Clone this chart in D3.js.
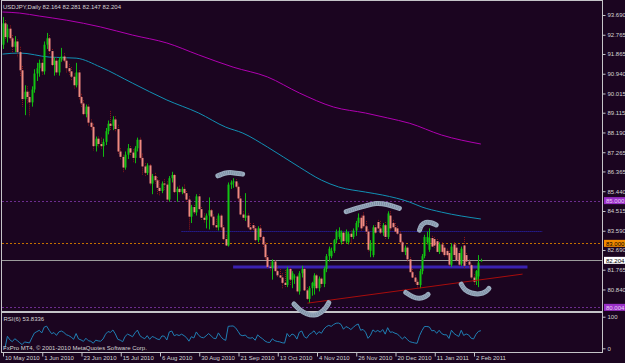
<!DOCTYPE html>
<html>
<head>
<meta charset="utf-8">
<script src="https://cdn.jsdelivr.net/npm/d3@7"></script>
<style>
  html, body { margin: 0; padding: 0; background: #1b0520; }
  svg { display: block; }
  text { font-family: "Liberation Sans", Arial, sans-serif; font-size: 6px; fill: #d4d4d4; }
</style>
</head>
<body>
<svg id="chart" width="625" height="363"></svg>
<script>
// USDJPY daily bars, 10 May 2010 .. 7 Feb 2011  [open, high, low, close]
const bars = [
  [92.30,93.60,92.10,93.30],[93.30,93.45,92.50,92.65],[92.65,93.25,92.40,93.05],[93.05,93.20,92.45,92.60],
  [92.60,92.75,91.90,92.20],[92.20,92.70,91.95,92.45],[92.45,92.55,91.70,91.95],[91.95,92.20,90.80,91.10],
  [91.10,91.30,89.40,89.75],[89.75,90.40,89.00,90.10],[90.10,90.35,89.55,89.85],[89.85,90.10,88.95,89.60],
  [89.60,90.35,89.40,90.20],[90.20,91.15,90.05,90.95],[90.95,91.45,90.60,91.20],[91.20,91.60,90.80,91.45],
  [91.45,91.60,90.85,91.05],[91.05,92.45,90.90,92.30],[92.30,92.85,92.10,92.60],[92.60,92.75,91.85,92.00],
  [92.00,92.10,91.25,91.35],[91.35,91.70,90.85,91.55],[91.55,91.70,90.90,91.00],[91.00,91.70,90.85,91.60],
  [91.60,92.15,91.50,91.75],[91.75,91.90,91.45,91.55],[91.55,91.70,91.00,91.20],[91.20,91.40,90.90,91.05],
  [91.05,91.25,90.60,90.80],[90.80,90.95,90.25,90.40],[90.40,91.45,90.30,91.00],[91.00,91.10,89.70,89.85],
  [89.85,90.00,89.35,89.55],[89.55,89.70,88.95,89.05],[89.05,89.50,88.90,89.40],[89.40,89.50,88.50,88.65],
  [88.65,88.80,88.30,88.45],[88.45,88.60,87.35,87.55],[87.55,88.00,87.30,87.90],[87.90,88.00,87.50,87.65],
  [87.65,87.95,87.40,87.55],[87.55,87.90,87.05,87.75],[87.75,88.40,87.60,88.25],[88.25,88.75,88.10,88.60],
  [88.60,89.20,88.30,88.50],[88.50,88.95,88.30,88.80],[88.80,88.95,88.20,88.35],[88.35,88.55,87.20,87.30],
  [87.30,87.45,86.90,87.05],[87.05,87.15,86.30,86.55],[86.55,87.30,86.45,87.15],[87.15,87.65,86.95,87.45],
  [87.45,87.55,87.10,87.25],[87.25,87.40,86.80,87.00],[87.00,87.55,86.75,87.45],[87.45,87.95,87.30,87.85],
  [87.85,87.95,86.90,87.00],[87.00,87.20,86.20,86.60],[86.60,86.75,86.15,86.30],[86.30,86.75,86.20,86.65],
  [86.65,86.70,85.70,85.80],[85.80,86.25,85.30,86.15],[86.15,86.30,85.80,85.95],[85.95,86.10,85.30,85.60],
  [85.60,85.95,85.25,85.45],[85.45,85.90,85.35,85.80],[85.80,86.00,85.50,85.75],[85.75,85.90,84.95,85.05],
  [85.05,86.15,84.95,86.05],[86.05,86.35,85.85,86.20],[86.20,86.25,85.30,85.40],[85.40,85.65,84.95,85.55],
  [85.55,85.70,85.30,85.40],[85.40,85.65,85.30,85.55],[85.55,85.75,85.25,85.35],[85.35,85.45,84.90,85.05],
  [85.05,85.20,83.60,84.25],[84.25,84.80,83.95,84.70],[84.70,84.80,84.35,84.45],[84.45,85.30,84.30,85.20],
  [85.20,85.30,84.55,84.60],[84.60,84.70,84.10,84.20],[84.20,84.40,83.95,84.10],[84.10,84.40,83.70,84.30],
  [84.30,85.15,83.65,84.55],[84.55,84.60,84.20,84.25],[84.25,84.35,83.75,83.85],[83.85,84.15,83.65,83.75],
  [83.75,84.40,83.60,84.30],[84.30,84.35,83.65,83.75],[83.75,83.85,83.10,83.20],[83.20,83.40,82.85,82.90],
  [82.90,85.85,82.85,85.75],[85.75,85.95,85.55,85.85],[85.85,86.05,85.60,85.90],[85.90,86.00,85.55,85.65],
  [85.65,85.80,85.00,85.10],[85.10,85.20,84.25,84.35],[84.35,84.50,84.10,84.20],[84.20,85.35,84.05,84.30],
  [84.30,84.40,83.70,83.75],[83.75,83.95,83.55,83.65],[83.85,83.95,83.60,83.70],[83.70,83.80,83.10,83.15],
  [83.15,83.80,83.05,83.70],[83.70,83.85,83.10,83.30],[83.30,83.35,82.80,82.95],[82.95,83.05,82.25,82.35],
  [82.35,82.45,81.80,81.90],[81.90,82.10,81.70,81.85],[81.85,82.25,81.30,82.15],[82.15,82.20,81.65,81.70],
  [81.70,81.95,81.40,81.50],[81.50,81.80,81.35,81.40],[81.40,81.60,80.85,81.15],[81.15,81.75,80.95,81.05],
  [81.05,81.90,80.95,81.80],[81.80,81.85,81.05,81.30],[81.30,81.70,80.90,81.60],[81.40,81.55,81.10,81.45],
  [81.45,81.50,80.65,80.75],[80.75,81.70,80.60,81.60],[81.60,81.95,81.40,81.80],[81.80,81.85,80.75,80.80],
  [80.80,80.95,80.35,80.40],[80.40,81.00,80.20,80.90],[80.90,81.20,80.55,81.15],[81.00,81.60,80.60,81.50],
  [81.50,81.55,80.80,80.90],[80.90,81.45,80.75,81.35],[81.35,81.40,80.95,81.10],[81.10,81.90,80.95,81.80],
  [81.80,82.50,81.65,82.40],[82.40,82.85,82.15,82.75],[82.40,82.80,82.30,82.65],[82.65,83.20,82.55,83.15],
  [83.15,83.65,83.00,83.55],[83.30,83.75,83.20,83.60],[83.05,83.60,82.95,83.50],[83.50,83.55,83.00,83.10],
  [83.10,83.65,83.00,83.55],[83.05,83.55,82.95,83.45],[83.45,83.60,83.00,83.30],[83.30,83.70,83.20,83.60],
  [83.60,84.05,83.35,83.95],[83.95,84.40,83.75,84.20],[84.20,84.30,83.60,83.70],[84.30,84.45,83.70,83.80],
  [83.80,84.05,83.45,83.55],[83.55,83.65,82.60,82.70],[82.65,83.15,82.35,83.00],[82.45,83.85,82.35,83.75],
  [83.75,83.85,83.45,83.50],[84.00,84.10,83.60,83.70],[83.70,84.05,83.40,83.50],[83.50,83.95,83.35,83.85],
  [83.85,84.00,83.20,83.30],[83.30,84.50,83.20,84.40],[84.30,84.50,83.60,83.70],[83.95,84.10,83.70,83.75],
  [83.75,83.95,83.50,83.55],[83.70,83.80,83.40,83.45],[83.45,83.55,82.95,83.05],[83.05,83.10,82.55,82.60],
  [82.60,82.90,82.45,82.80],[82.80,82.85,82.15,82.25],[82.25,82.35,81.60,81.65],[81.65,81.80,81.35,81.40],
  [81.40,81.50,81.10,81.20],[81.20,81.30,80.85,81.05],[81.05,81.80,80.90,81.70],[81.70,82.50,81.55,82.40],
  [82.40,83.40,82.30,83.30],[83.05,83.55,82.95,83.30],[82.70,83.70,82.60,83.25],[83.25,83.35,82.80,82.85],
  [83.20,83.30,82.80,82.90],[83.10,83.20,82.55,82.60],[82.60,83.05,82.50,82.95],[82.95,83.05,82.50,82.60],
  [82.80,82.90,82.35,82.45],[82.65,82.75,82.35,82.45],[82.55,82.65,81.90,82.00],[82.00,83.00,81.90,82.85],
  [82.95,83.05,82.35,82.45],[82.80,82.95,82.10,82.20],[82.55,82.65,81.90,82.00],[82.05,82.85,81.95,82.75],
  [82.90,83.30,81.85,81.95],[82.45,82.55,82.05,82.15],[82.15,82.25,81.85,82.00],[81.98,82.05,81.35,81.40],
  [81.40,81.55,81.05,81.20],[81.25,81.75,81.05,81.70],[81.45,82.45,80.95,82.10],[82.164,82.281,82.147,82.204]
];

// date axis: bar index of each label and its text
const tickBars = [0, 16, 32, 48, 64, 80, 96, 112, 128, 144, 160, 176, 192];
const tickLabels = ["10 May 2010", "1 Jun 2010", "23 Jun 2010", "15 Jul 2010", "6 Aug 2010", "30 Aug 2010",
  "21 Sep 2010", "13 Oct 2010", "4 Nov 2010", "26 Nov 2010", "20 Dec 2010", "11 Jan 2011", "2 Feb 2011"];

// price axis labels
const priceTicks = [93.690, 92.765, 91.865, 90.940, 90.015, 89.115, 88.190, 87.265, 86.365, 85.440,
  84.515, 83.590, 82.690, 81.765, 80.840];

// horizontal levels: 85.000 / 83.000 / bid / 80.004
const levels = [85.000, 83.000, 82.204, 80.004];

// moving averages: [bar, price]
const maSlow = [[0,93.83],[7,93.78],[15,93.64],[26,93.45],[40,93.13],[53,92.75],[67,92.38],[80,91.82],
  [94,91.25],[108,90.79],[121,90.04],[135,89.38],[148,89.10],[157,88.87],[166,88.62],[179,88.07],[195,87.65]];
const maFast = [[0,91.86],[7,91.91],[19,91.72],[30,91.67],[40,91.25],[53,90.50],[67,89.71],[80,89.10],
  [91,88.44],[98,88.16],[108,87.51],[121,86.57],[130,85.96],[137,85.64],[148,85.40],[155,85.26],
  [166,84.93],[171,84.70],[179,84.46],[195,84.14]];

// drawn objects: [fromBar, toBar, price]
const dottedLevel = [73, 220, 83.60];
const bandLevel = [94, 214, 81.89];
const trendLine = [[124.3, 80.20], [212, 81.56]];

// hand drawn arcs: lists of [bar, price]
const arcs = [
  [[87.8,86.16],[90.5,86.30],[93.4,86.33],[97.9,86.24]],
  [[140.1,84.48],[144.2,84.64],[148.3,84.76],[152.3,84.90],[156.4,84.84],[161.8,84.64]],
  [[170.0,83.62],[170.7,83.86],[172.4,84.01],[174.8,83.98],[176.8,83.86]],
  [[118.8,80.16],[121.1,79.88],[123.8,79.69],[127.2,79.61],[129.9,79.75],[132.0,80.00],[133.0,80.22]],
  [[164.4,80.70],[167.3,80.47],[170.0,80.40],[172.4,80.50],[173.5,80.61]],
  [[187.0,81.09],[188.3,80.81],[191.1,80.66],[194.5,80.61],[197.2,80.73],[198.3,80.89]]
];

const W = 625, H = 363;
const padL = 2, padR = 602, padT = 1, mainBottom = 311, rsiTop = 313, rsiBottom = 352;

const svg = d3.select("#chart");
svg.append("rect").attr("width", W).attr("height", H).attr("fill", "#1b0520");

const x = d3.scaleLinear().domain([0, 192]).range([2.5, 473.5]);
const y = d3.scaleLinear().domain([79.833, 94.345]).range([mainBottom, padT]);
const yr = d3.scaleLinear().domain([0, 100]).range([348.3, 316.7]);

svg.append("clipPath").attr("id", "mainClip")
  .append("rect").attr("x", padL).attr("y", padT).attr("width", padR - padL).attr("height", mainBottom - padT);
svg.append("clipPath").attr("id", "rsiClip")
  .append("rect").attr("x", padL).attr("y", rsiTop).attr("width", padR - padL).attr("height", rsiBottom - rsiTop);

const main = svg.append("g").attr("clip-path", "url(#mainClip)");

// level lines
const levelColor = ["#6c2c8e", "#c47000", "#9c9c9c", "#6c2c8e"];
main.selectAll("line.level").data(levels).join("line")
  .attr("x1", padL).attr("x2", padR)
  .attr("y1", d => Math.round(y(d)) + 0.5).attr("y2", d => Math.round(y(d)) + 0.5)
  .attr("stroke", (d, i) => levelColor[i])
  .attr("stroke-dasharray", (d, i) => i === 2 ? null : "2,2");

// moving averages
const maLine = d3.line().x(d => x(d[0])).y(d => y(d[1])).curve(d3.curveMonotoneX);
main.append("path").attr("d", maLine(maSlow)).attr("fill", "none").attr("stroke", "#b000b0").attr("stroke-width", 1);
main.append("path").attr("d", maLine(maFast)).attr("fill", "none").attr("stroke", "#1190b4").attr("stroke-width", 1);

// blue dotted level and thick band
main.append("line")
  .attr("x1", x(dottedLevel[0])).attr("x2", x(dottedLevel[1]))
  .attr("y1", Math.round(y(dottedLevel[2])) + 0.5).attr("y2", Math.round(y(dottedLevel[2])) + 0.5)
  .attr("stroke", "#2a2ad0").attr("stroke-dasharray", "1,1");
main.append("line")
  .attr("x1", x(bandLevel[0])).attr("x2", x(bandLevel[1]))
  .attr("y1", y(bandLevel[2])).attr("y2", y(bandLevel[2]))
  .attr("stroke", "#3a22b0").attr("stroke-width", 3);

// candles
const candles = main.selectAll("g.bar").data(bars).join("g");
candles.append("line")
  .attr("x1", (d, i) => Math.round(x(i)) + 0.5).attr("x2", (d, i) => Math.round(x(i)) + 0.5)
  .attr("y1", d => y(d[1])).attr("y2", d => y(d[2]))
  .attr("stroke", d => d[3] >= d[0] ? "#10b810" : "#901818")
  .attr("stroke-dasharray", d => d[3] >= d[0] ? null : "1,1");
candles.append("rect")
  .attr("x", (d, i) => Math.round(x(i)) - 0.5)
  .attr("width", 2)
  .attr("y", d => y(Math.max(d[0], d[3])))
  .attr("height", d => Math.max(1, Math.abs(y(d[0]) - y(d[3]))))
  .attr("fill", d => d[3] >= d[0] ? "#12c412" : "#f08a80");

// trend line
main.append("line")
  .attr("x1", x(trendLine[0][0])).attr("y1", y(trendLine[0][1]))
  .attr("x2", x(trendLine[1][0])).attr("y2", y(trendLine[1][1]))
  .attr("stroke", "#a80c0c").attr("stroke-width", 1);

// RSI(6) from the closes
const closes = bars.map(d => d[3]);
const rsi = [];
let ag = 0, al = 0;
for (let i = 1; i < closes.length; i++) {
  const ch = closes[i] - closes[i - 1];
  const g = Math.max(ch, 0), l = Math.max(-ch, 0);
  if (i <= 6) { ag = (ag * (i - 1) + g) / i; al = (al * (i - 1) + l) / i; }
  else { ag = (ag * 5 + g) / 6; al = (al * 5 + l) / 6; }
  rsi.push([i, al === 0 ? 100 : 100 - 100 / (1 + ag / al)]);
}
svg.append("g").attr("clip-path", "url(#rsiClip)")
  .append("path")
  .attr("d", d3.line().x(d => x(d[0])).y(d => yr(d[1]))(rsi))
  .attr("fill", "none").attr("stroke", "#1f7fb4").attr("stroke-width", 1);

// frames
const frame = svg.append("g").attr("fill", "none").attr("stroke", "#c4c4c8");
frame.append("rect").attr("x", padL - 0.5).attr("y", padT - 0.5).attr("width", padR - padL + 1).attr("height", mainBottom - padT + 1);
frame.append("rect").attr("x", padL - 0.5).attr("y", rsiTop - 0.5).attr("width", padR - padL + 1).attr("height", rsiBottom - rsiTop + 1);

// hand drawn arcs
const arcLine = d3.line().x(d => x(d[0])).y(d => y(d[1])).curve(d3.curveBasis);
const arcG = svg.append("g").selectAll("g").data(arcs).join("g");
arcG.append("path")
  .attr("d", arcLine)
  .attr("fill", "none").attr("stroke", "#9aabbe").attr("stroke-width", 5)
  .attr("stroke-linecap", "round").attr("stroke-linejoin", "round");
arcG.append("path")
  .attr("d", arcLine)
  .attr("fill", "none").attr("stroke", "#7e8fa4").attr("stroke-width", 3)
  .attr("stroke-dasharray", "1,1").attr("stroke-linecap", "butt");

// price axis
const yAxis = svg.append("g").attr("transform", `translate(${padR + 0.5},0)`)
  .call(d3.axisRight(y).tickValues(priceTicks).tickFormat(d3.format(".3f")).tickSize(3).tickPadding(2));
yAxis.select(".domain").remove();
yAxis.selectAll("line").attr("stroke", "#c4c4c8");
yAxis.selectAll("text").attr("fill", "#d4d4d4").attr("font-size", 6).attr("font-family", "Liberation Sans, Arial, sans-serif");

// highlighted level values on the axis
const boxFill = ["#9a30c8", "#f08a00", "#ffffff", "#9a30c8"];
const boxText = ["#e8d0f4", "#000000", "#000000", "#e8d0f4"];
const tags = svg.append("g").selectAll("g").data(levels).join("g")
  .attr("transform", d => `translate(${padR + 2},${y(d)})`);
tags.append("rect").attr("x", 0).attr("y", -3.5).attr("width", 21).attr("height", 7)
  .attr("fill", (d, i) => boxFill[i]);
tags.append("text").attr("x", 2).attr("y", 2.2).text(d => d.toFixed(3))
  .style("fill", (d, i) => boxText[i]);

// RSI scale
const rAxis = svg.append("g").attr("transform", `translate(${padR + 0.5},0)`)
  .call(d3.axisRight(yr).tickValues([0, 100]).tickSize(3).tickPadding(2));
rAxis.select(".domain").remove();
rAxis.selectAll("line").attr("stroke", "#c4c4c8");
rAxis.selectAll("text").attr("fill", "#d4d4d4").attr("font-size", 6).attr("font-family", "Liberation Sans, Arial, sans-serif");

// date axis
const xAxis = svg.append("g").attr("transform", `translate(0,${rsiBottom + 0.5})`)
  .call(d3.axisBottom(x).tickValues(tickBars).tickFormat((d, i) => tickLabels[i]).tickSize(4));
xAxis.select(".domain").remove();
xAxis.selectAll("line").attr("stroke", "#c4c4c8").attr("transform", "translate(0.5,0)");
xAxis.selectAll("text").attr("text-anchor", "start").attr("x", 2).attr("y", 3.5).attr("dy", "0.71em")
  .attr("fill", "#d4d4d4").attr("font-size", 6).attr("font-family", "Liberation Sans, Arial, sans-serif");

// labels
svg.append("text").attr("x", 3).attr("y", 8.5).text("USDJPY,Daily  82.164 82.281 82.147 82.204");
svg.append("text").attr("x", 3.5).attr("y", 320.5).text("RSI(6) 53.8336");
svg.append("text").attr("x", 3).attr("y", 349.5).text("FxPro MT4, \u00a9 2001-2010 MetaQuotes Software Corp.");
</script>
</body>
</html>
